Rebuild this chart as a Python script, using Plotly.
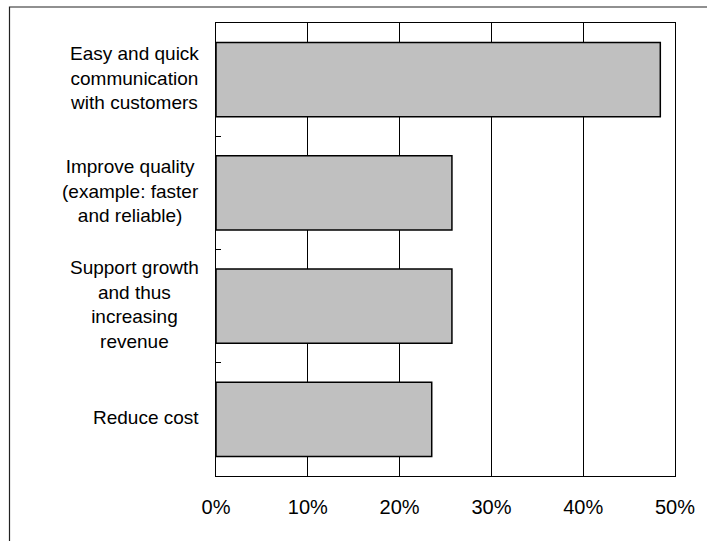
import plotly.graph_objects as go

categories = [
    "Easy and quick<br>communication<br>with customers",
    "Improve quality<br>(example: faster<br>and reliable)",
    "Support growth<br>and thus<br>increasing<br>revenue",
    "Reduce cost",
]
values = [0.484, 0.257, 0.257, 0.235]
tick_vals = [0, 0.1, 0.2, 0.3, 0.4, 0.5]
tick_text = ["0%", "10%", "20%", "30%", "40%", "50%"]

W, H = 707, 541
ML, MR, MT, MB = 216, 32, 23, 65
PW, PH = W - ML - MR, H - MT - MB

FONT = "Arial, 'Liberation Sans', sans-serif"

fig = go.Figure()
fig.add_trace(go.Bar(
    x=values, y=categories, orientation="h",
    marker=dict(color="#C0C0C0", line=dict(color="black", width=1.5)),
    hoverinfo="skip",
))

# category labels (centered lines, block right-aligned)
for c in categories:
    fig.add_annotation(
        x=(201 - ML) / PW, xref="paper", xanchor="right",
        y=c, yref="y", yanchor="middle", yshift=2,
        text=c, showarrow=False, align="center",
        font=dict(family=FONT, size=19, color="black"),
    )

# outer frame (cropped at right and bottom)
fig.add_shape(
    type="rect", xref="paper", yref="paper",
    x0=(9.5 - ML) / PW, x1=1 + (740 - (W - MR)) / PW,
    y0=-(580 - (H - MB)) / PH, y1=1 + (MT - 7) / PH,
    line=dict(color="#222222", width=1.2), fillcolor="rgba(0,0,0,0)",
    layer="below",
)

fig.update_layout(
    width=W, height=H,
    margin=dict(l=ML, r=MR, t=MT, b=MB, pad=0),
    paper_bgcolor="white", plot_bgcolor="white",
    bargap=0.345,
    showlegend=False,
    font=dict(family=FONT, size=19, color="black"),
    xaxis=dict(
        range=[0, 0.5], tickvals=tick_vals, ticktext=tick_text,
        showgrid=True, gridcolor="black", gridwidth=1,
        showline=True, linecolor="black", linewidth=1, mirror=True,
        ticks="", ticklabelstandoff=13,
        tickfont=dict(family=FONT, size=20, color="black"),
        zeroline=False, fixedrange=True,
    ),
    yaxis=dict(
        autorange="reversed", type="category",
        showticklabels=False,
        ticks="inside", tickson="boundaries", ticklen=5, tickcolor="black",
        showline=True, linecolor="black", linewidth=1, mirror=True,
        showgrid=False, fixedrange=True,
    ),
)

fig.write_html("out.html")
